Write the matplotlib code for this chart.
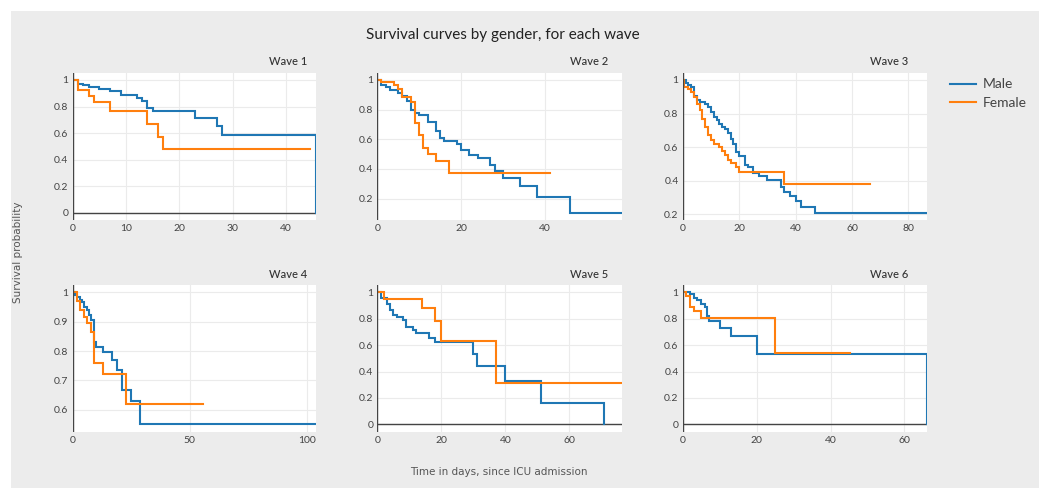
#!/usr/bin/env python3
import matplotlib
matplotlib.use('Agg')
import matplotlib.pyplot as plt
import matplotlib.patches as patches
from matplotlib.lines import Line2D

# Kaplan-Meier estimates (time in days, survival probability)
w1_male_t = [0, 1, 2, 3, 5, 7, 9, 12, 13, 14, 15, 23, 27, 28, 45.6]
w1_male_s = [1, 0.97, 0.96, 0.945, 0.932, 0.915, 0.889, 0.867, 0.842, 0.79, 0.764, 0.711, 0.65, 0.585, 0]
w1_male_end = 45.6
w1_female_t = [0, 1, 3, 4, 7, 14, 16, 17]
w1_female_s = [1, 0.925, 0.88, 0.837, 0.766, 0.671, 0.573, 0.48]
w1_female_end = 44.5

w2_male_t = [0, 1, 2, 3, 5, 6, 7, 8, 9, 10, 12, 14, 15, 16, 19, 20, 22, 24, 27, 28, 30, 34, 38, 46]
w2_male_s = [1, 0.966, 0.95, 0.93, 0.914, 0.892, 0.858, 0.80, 0.775, 0.761, 0.718, 0.653, 0.606, 0.588,
             0.565, 0.525, 0.497, 0.475, 0.43, 0.385, 0.34, 0.283, 0.211, 0.105]
w2_male_end = 58.4
w2_female_t = [0, 1, 4, 5, 6, 8, 9, 10, 11, 12, 14, 17]
w2_female_s = [1, 0.985, 0.964, 0.937, 0.887, 0.853, 0.712, 0.626, 0.543, 0.502, 0.452, 0.374]
w2_female_end = 41.3

w3_male_t = [0, 1, 2, 3, 4, 5, 6, 8, 9, 10, 11, 12, 13, 14, 15, 16, 17, 18, 19, 20, 22, 23, 25, 27,
             30, 35, 36, 38, 40, 42, 47]
w3_male_s = [1, 0.98, 0.97, 0.96, 0.905, 0.88, 0.87, 0.86, 0.84, 0.81, 0.78, 0.76, 0.738, 0.722, 0.706,
             0.686, 0.65, 0.619, 0.573, 0.547, 0.494, 0.48, 0.448, 0.428, 0.405, 0.365, 0.335, 0.31,
             0.28, 0.245, 0.21]
w3_male_end = 86.6
w3_female_t = [0, 0.5, 2, 3, 4, 5, 6, 7, 8, 9, 10, 11, 13, 14, 15, 16, 17, 19, 20, 36]
w3_female_s = [1, 0.956, 0.944, 0.93, 0.90, 0.86, 0.82, 0.766, 0.722, 0.672, 0.642, 0.619, 0.60, 0.58,
               0.552, 0.524, 0.504, 0.484, 0.454, 0.379]
w3_female_end = 66.3

w4_male_t = [0, 1, 2, 3, 4, 5, 6, 7, 8, 9, 10, 13, 17, 19, 21, 25, 29]
w4_male_s = [1, 0.991, 0.983, 0.974, 0.966, 0.951, 0.94, 0.921, 0.904, 0.83, 0.815, 0.796, 0.768,
             0.734, 0.668, 0.629, 0.55]
w4_male_end = 104
w4_female_t = [0, 2, 3, 5, 6, 8, 9, 13, 23]
w4_female_s = [1, 0.97, 0.938, 0.917, 0.895, 0.864, 0.759, 0.722, 0.618]
w4_female_end = 55.6

w5_male_t = [0, 1, 3, 4, 5, 6, 8, 9, 11, 12, 16, 18, 30, 31, 40, 51, 70.9]
w5_male_s = [1, 0.955, 0.915, 0.865, 0.83, 0.815, 0.79, 0.74, 0.715, 0.69, 0.655, 0.62, 0.53, 0.44,
             0.33, 0.165, 0]
w5_male_end = 70.9
w5_female_t = [0, 2, 14, 18, 20, 37]
w5_female_s = [1, 0.947, 0.884, 0.784, 0.628, 0.314]
w5_female_end = 76.4

w6_male_t = [0, 2, 3, 4, 5, 6, 6.6, 7, 10, 13, 20, 66.1]
w6_male_s = [1, 0.985, 0.96, 0.94, 0.915, 0.89, 0.824, 0.786, 0.729, 0.668, 0.535, 0]
w6_male_end = 66.1
w6_female_t = [0, 1, 2, 3, 5, 25]
w6_female_s = [1, 0.975, 0.892, 0.857, 0.807, 0.54]
w6_female_end = 45.3

wave_titles = ['Wave 1', 'Wave 2', 'Wave 3', 'Wave 4', 'Wave 5', 'Wave 6']
x_steps = [10, 20, 20, 50, 20, 20]
y_ticks = [[0, 0.2, 0.4, 0.6, 0.8, 1], [0.2, 0.4, 0.6, 0.8, 1], [0.2, 0.4, 0.6, 0.8, 1],
           [0.6, 0.7, 0.8, 0.9, 1], [0, 0.2, 0.4, 0.6, 0.8, 1], [0, 0.2, 0.4, 0.6, 0.8, 1]]

waves = [
    ((w1_male_t, w1_male_s, w1_male_end), (w1_female_t, w1_female_s, w1_female_end)),
    ((w2_male_t, w2_male_s, w2_male_end), (w2_female_t, w2_female_s, w2_female_end)),
    ((w3_male_t, w3_male_s, w3_male_end), (w3_female_t, w3_female_s, w3_female_end)),
    ((w4_male_t, w4_male_s, w4_male_end), (w4_female_t, w4_female_s, w4_female_end)),
    ((w5_male_t, w5_male_s, w5_male_end), (w5_female_t, w5_female_s, w5_female_end)),
    ((w6_male_t, w6_male_s, w6_male_end), (w6_female_t, w6_female_s, w6_female_end)),
]

MALE = '#1f77b4'
FEMALE = '#ff7f0e'
W, H = 1043, 488

fig = plt.figure(figsize=(W / 100, H / 100), dpi=100, facecolor='white')

# gray paper area
bg = patches.Rectangle((11 / W, 0), 1028 / W, 1 - 11 / H, transform=fig.transFigure,
                       facecolor='#ececec', edgecolor='none', zorder=-10)
fig.patches.append(bg)

# axes boxes in pixels: left, right, top, bottom
col_px = [(72.5, 316), (377.3, 622), (682.7, 927)]
row_px = [(72.7, 220), (285, 431.7)]
title_frac = [0.887, 0.867, 0.847]

for i, (male, female) in enumerate(waves):
    r, c = divmod(i, 3)
    l, rt = col_px[c]
    tp, bt = row_px[r]
    ax = fig.add_axes([l / W, 1 - bt / H, (rt - l) / W, (bt - tp) / H])
    ax.set_facecolor('white')
    for sp in ax.spines.values():
        sp.set_visible(False)

    for (t, s, end), color in ((male, MALE), (female, FEMALE)):
        tt = list(t) + ([end] if end > t[-1] else [])
        ss = list(s) + ([s[-1]] if end > t[-1] else [])
        ax.step(tt, ss, where='post', color=color, lw=1.5, zorder=3, solid_joinstyle='miter')

    xmax = max(male[2], female[2])
    smin = min(min(male[1]), min(female[1]))
    pad = 0.055 * (1 - smin)
    ax.set_xlim(0, xmax)
    ax.set_ylim(smin - pad, 1 + pad)

    step = x_steps[i]
    xt = [k * step for k in range(int(xmax // step) + 1)]
    ax.set_xticks(xt)
    ax.set_xticklabels(['{:g}'.format(v) for v in xt])
    ax.set_yticks(y_ticks[i])
    ax.set_yticklabels(['{:g}'.format(v) for v in y_ticks[i]])
    ax.tick_params(length=0, labelsize=7.5, labelcolor='#444444', pad=3)
    for lab in ax.get_xticklabels() + ax.get_yticklabels():
        lab.set_fontfamily('Lato')
    ax.grid(True, color='#ebebeb', lw=0.8, zorder=0)
    ax.set_axisbelow(True)

    # zero lines
    ax.axvline(0, color='#444444', lw=1, zorder=4)
    if smin - pad < 0:
        ax.axhline(0, color='#444444', lw=1, zorder=2)

    ax.text(title_frac[c], 1 + 11 / (bt - tp), wave_titles[i], transform=ax.transAxes,
            ha='center', va='center', fontsize=8, color='#333333', family='Lato', weight='medium')

fig.text(502.5 / W, 1 - 35 / H, 'Survival curves by gender, for each wave', ha='center', va='center',
         fontsize=11, color='#222222', family='Lato')
fig.text(18 / W, 1 - 252 / H, 'Survival probability', rotation=90, ha='center', va='center',
         fontsize=7.5, color='#555555', family='DejaVu Sans')
fig.text(499 / W, 1 - 472 / H, 'Time in days, since ICU admission', ha='center', va='center',
         fontsize=7.5, color='#555555', family='DejaVu Sans')

handles = [Line2D([], [], color=MALE, lw=1.5), Line2D([], [], color=FEMALE, lw=1.5)]
fig.legend(handles, ['Male', 'Female'], loc='upper left', bbox_to_anchor=(937 / W, 1 - 66 / H),
           frameon=False, prop={'family': 'Lato', 'size': 10}, labelcolor='#444444',
           handlelength=1.9, handletextpad=0.5, labelspacing=0.45)

fig.savefig('out.png', dpi=100, facecolor='white')
